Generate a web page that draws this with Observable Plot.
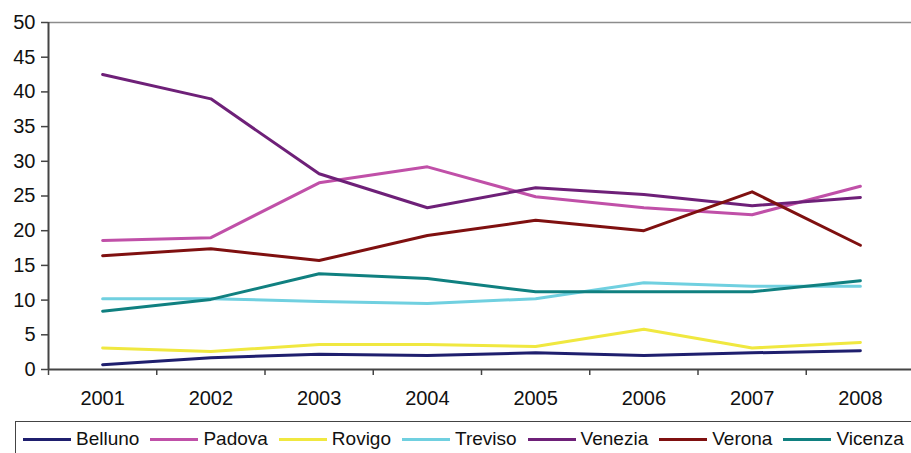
<!DOCTYPE html>
<html><head><meta charset="utf-8">
<script src="https://cdn.jsdelivr.net/npm/d3@7"></script>
<script src="https://cdn.jsdelivr.net/npm/@observablehq/plot@0.6"></script>
<style>
body{margin:0;background:#fff;overflow:hidden;width:911px;height:453px;position:relative;font-family:"Liberation Sans",Arial,sans-serif;}
#chart{position:absolute;left:0;top:0;}
#legend{position:absolute;left:15px;top:421px;width:1000px;height:60px;border:1px solid #444;box-sizing:border-box;display:flex;align-items:flex-start;padding-left:7px;padding-top:6px;}
.item{display:flex;align-items:center;font-size:19px;color:#111;margin-right:11px;}
.sw{width:48px;height:3px;margin-right:5px;}
</style></head><body>
<div id="chart"></div><div id="legend"></div>
<script>
const years = [2001, 2002, 2003, 2004, 2005, 2006, 2007, 2008];
const seriesNames = ["Belluno", "Padova", "Rovigo", "Treviso", "Venezia", "Verona", "Vicenza"];
const seriesColors = ["#1f1f6e", "#c050a8", "#f0e840", "#70d0e0", "#6e2078", "#7f1010", "#108080"];
const belluno = [0.7, 1.7, 2.2, 2.0, 2.4, 2.0, 2.4, 2.7];
const padova  = [18.6, 19.0, 26.9, 29.2, 24.9, 23.3, 22.3, 26.4];
const rovigo  = [3.1, 2.6, 3.6, 3.6, 3.3, 5.8, 3.1, 3.9];
const treviso = [10.2, 10.2, 9.8, 9.5, 10.2, 12.5, 12.0, 12.0];
const venezia = [42.5, 39.0, 28.2, 23.3, 26.2, 25.2, 23.6, 24.8];
const verona  = [16.4, 17.4, 15.7, 19.3, 21.5, 20.0, 25.6, 17.9];
const vicenza = [8.4, 10.1, 13.8, 13.1, 11.2, 11.2, 11.2, 12.8];
const yTicks = [0, 5, 10, 15, 20, 25, 30, 35, 40, 45, 50];

const valuesBySeries = [belluno, padova, rovigo, treviso, venezia, verona, vicenza];
const data = [];
seriesNames.forEach((s, i) => years.forEach((yr, j) => data.push({series: s, year: yr, value: valuesBySeries[i][j]})));
const bounds = years.map(y => y - 0.5).concat([years[years.length - 1] + 0.5]);

const chart = Plot.plot({
  width: 911,
  height: 418,
  marginLeft: 48,
  marginRight: 0,
  marginTop: 22,
  marginBottom: 49,
  style: {fontFamily: "Liberation Sans, Arial, sans-serif", fontSize: "20px", color: "#111", background: "#fff", overflow: "visible"},
  x: {domain: [bounds[0], bounds[bounds.length - 1]], range: [48, 914], label: null},
  y: {domain: [0, 50], label: null},
  color: {domain: seriesNames, range: seriesColors},
  marks: [
    Plot.ruleY([50], {stroke: "#8c8c8c", strokeWidth: 1.5}),
    Plot.axisY({ticks: yTicks, tickSize: 7, tickPadding: 6, stroke: "#444", strokeWidth: 1.5, fontSize: 20, label: null, tickFormat: d => String(d)}),
    Plot.axisX({ticks: bounds, tickSize: 6, tickFormat: () => "", stroke: "#444", strokeWidth: 1.5, label: null}),
    Plot.axisX({ticks: years, tickSize: 0, tickPadding: 21, fontSize: 20, label: null, tickFormat: d => String(d)}),
    Plot.line(data, {x: "year", y: "value", z: "series", stroke: "series", strokeWidth: 3}),
    Plot.ruleY([0], {stroke: "#444", strokeWidth: 2}),
    Plot.ruleX([bounds[0]], {stroke: "#444", strokeWidth: 2})
  ]
});
document.getElementById("chart").appendChild(chart);

const legend = document.getElementById("legend");
seriesNames.forEach((s, i) => {
  const it = document.createElement("div");
  it.className = "item";
  const sw = document.createElement("div");
  sw.className = "sw";
  sw.style.background = seriesColors[i];
  const tx = document.createElement("span");
  tx.textContent = s;
  it.appendChild(sw);
  it.appendChild(tx);
  legend.appendChild(it);
});
</script>
</body></html>
